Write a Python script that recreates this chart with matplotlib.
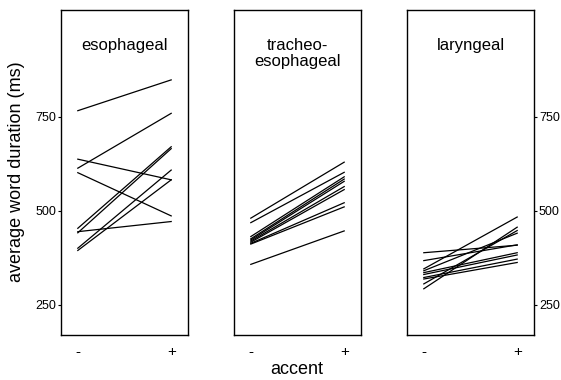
import matplotlib
matplotlib.use("Agg")
import matplotlib.pyplot as plt

plt.rcParams["font.family"] = ["Liberation Sans", "DejaVu Sans"]

accent_labels = ["-", "+"]
groups = ["esophageal", "tracheo-\nesophageal", "laryngeal"]

# average word duration (ms): unaccented (-) and accented (+) per speaker
eso_minus = [766, 613, 637, 601, 453, 441, 444, 400, 394]
eso_plus = [848, 759, 582, 486, 670, 665, 471, 608, 582]

tracheo_minus = [480, 468, 431, 425, 422, 419, 416, 413, 411, 357]
tracheo_plus = [629, 602, 590, 584, 578, 564, 556, 521, 510, 446]

lar_minus = [388, 367, 345, 340, 335, 330, 322, 318, 305, 292]
lar_plus = [408, 409, 483, 440, 388, 382, 371, 362, 447, 456]

yticks = [250, 500, 750]

data = [(eso_minus, eso_plus), (tracheo_minus, tracheo_plus), (lar_minus, lar_plus)]

fig = plt.figure(figsize=(5.61, 3.80), dpi=100)
lefts = [61 / 561, 234 / 561, 407 / 561]
w = 127 / 561
bottom = 45 / 380
h = 325 / 380

for i, (mins, plus) in enumerate(data):
    ax = fig.add_axes([lefts[i], bottom, w, h])
    for a, b in zip(mins, plus):
        ax.plot([1, 2], [a, b], color="black", lw=0.9)
    ax.set_xlim(0.82, 2.18)
    ax.set_ylim(169, 1034)
    ax.set_xticks([1, 2])
    ax.set_xticklabels(accent_labels, fontsize=11)
    ax.tick_params(axis="x", length=0, pad=7)
    ax.text(0.5, 0.915, groups[i], transform=ax.transAxes, ha="center", va="top",
            fontsize=12, linespacing=1.1)
    for s in ax.spines.values():
        s.set_linewidth(1.0)
    if i == 0:
        ax.set_yticks(yticks)
        ax.tick_params(axis="y", length=2.5, labelsize=9, pad=1)
    elif i == 2:
        ax.set_yticks(yticks)
        ax.yaxis.tick_right()
        ax.tick_params(axis="y", length=2.5, labelsize=9, pad=1)
    else:
        ax.set_yticks([])

fig.text(297 / 561, 1 - 370 / 380, "accent", ha="center", va="center", fontsize=13)
fig.text(17 / 561, 1 - 172 / 380, "average word duration (ms)", ha="center", va="center",
         rotation=90, fontsize=13)

fig.savefig("out.png", dpi=100)
